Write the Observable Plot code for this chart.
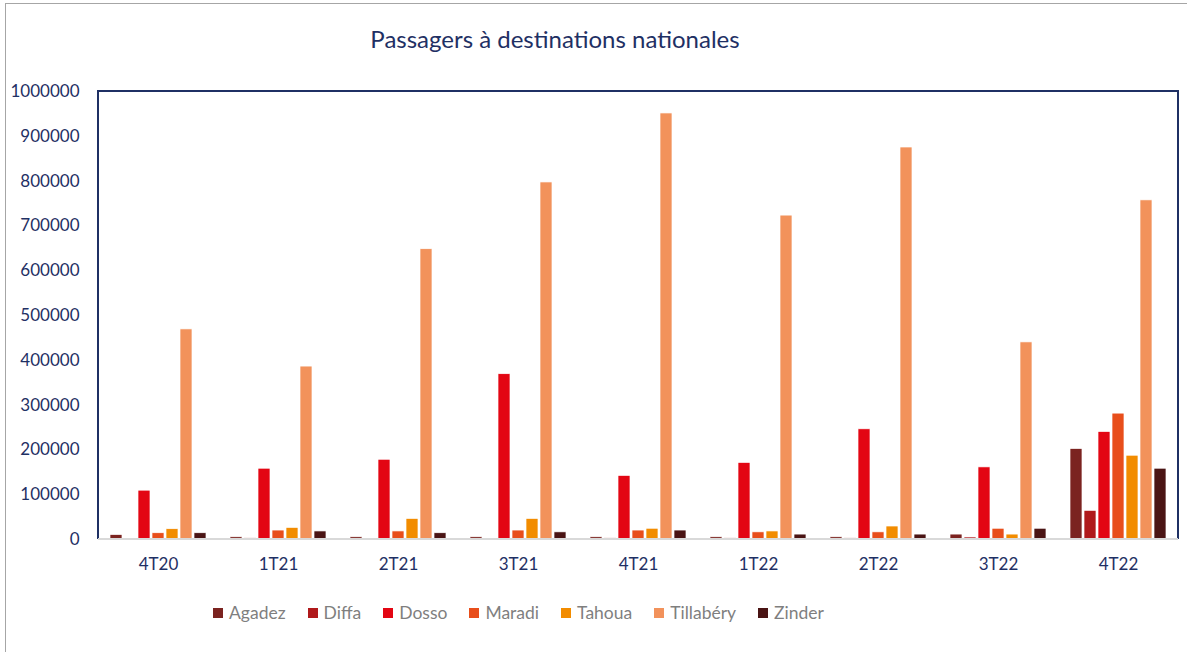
<!DOCTYPE html>
<html>
<head>
<meta charset="utf-8">
<script src="https://cdn.jsdelivr.net/npm/d3@7"></script>
<script src="https://cdn.jsdelivr.net/npm/@observablehq/plot@0.6"></script>
<style>
  html, body { margin: 0; padding: 0; background: #fff; }
  body { width: 1187px; height: 652px; position: relative; overflow: hidden; font-family: Lato, "Open Sans", sans-serif; }
  #border { position: absolute; left: 5px; top: 3px; width: 1200px; height: 700px; border: 1.5px solid #a6a6a6; box-sizing: border-box; z-index: 5; pointer-events: none; }
  #title { position: absolute; left: 0; top: 24px; width: 1110px; text-align: center; font-size: 24px; color: #1f3064; }
  #chart { position: absolute; left: 0; top: 60px; }
  #legend { position: absolute; left: 213px; top: 602px; display: flex; align-items: center; font-size: 17.5px; color: #7f7f7f; }
  #legend .item { display: flex; align-items: center; margin-right: 22px; }
  #legend .sw { width: 10px; height: 10px; margin-right: 6px; }
</style>
</head>
<body>
<div id="border"></div>
<div id="title">Passagers à destinations nationales</div>
<div id="chart"></div>
<div id="legend"></div>
<script>
const periods = ["4T20", "1T21", "2T21", "3T21", "4T21", "1T22", "2T22", "3T22", "4T22"];
const regions = ["Agadez", "Diffa", "Dosso", "Maradi", "Tahoua", "Tillabéry", "Zinder"];
const colors  = ["#7b2320", "#b0191b", "#e30613", "#e84e1b", "#f28c00", "#f2925b", "#4a1414"];

const agadez    = [10000, 5000, 5000, 5000, 5000, 5000, 5000, 11000, 202000];
const diffa     = [2000, 2500, 0, 0, 2500, 2500, 2500, 4500, 64000];
const dosso     = [109000, 158000, 178000, 369000, 142000, 171000, 246000, 161000, 240000];
const maradi    = [14000, 20000, 18000, 20000, 20000, 16000, 16000, 24000, 281000];
const tahoua    = [23000, 26000, 46000, 46000, 24000, 18000, 29000, 11000, 187000];
const tillabery = [469000, 386000, 648000, 797000, 951000, 723000, 875000, 440000, 757000];
const zinder    = [14000, 18000, 14000, 16000, 20000, 11000, 11000, 24000, 158000];

const series = [agadez, diffa, dosso, maradi, tahoua, tillabery, zinder];
const yTicks = d3.range(0, 1000001, 100000);

const data = [];
periods.forEach((p, i) => regions.forEach((r, j) => data.push({period: p, region: r, value: series[j][i]})));

const navy = "#1f3064";
const mL = 98, mR = 9, mT = 31, mB = 40, W = 1187, H = 519;

const chart = Plot.plot({
  width: W, height: H,
  marginLeft: mL, marginRight: mR, marginTop: mT, marginBottom: mB,
  style: {fontFamily: "Lato, 'Open Sans', sans-serif", fontSize: "17px", color: navy, background: "transparent"},
  fx: {domain: periods, paddingInner: 0.2, paddingOuter: 0.1, label: null, axis: "bottom", tickSize: 0, tickPadding: 18},
  x: {domain: regions, axis: null, paddingInner: 0.15, paddingOuter: 0},
  y: {domain: [0, 1000000], ticks: yTicks, tickFormat: d3.format("d"), tickSize: 0, tickPadding: 31, label: null},
  color: {domain: regions, range: colors},
  marks: [
    Plot.barY(data, {fx: "period", x: "region", y: "value", fill: "region", stroke: "white", strokeWidth: 0.7})
  ]
});
document.getElementById("chart").appendChild(chart);

// plot area frame: navy on left/top/right, light grey baseline
const ys = chart.scale("y");
const y0 = ys.apply(0), y1 = ys.apply(1000000);
const svg = d3.select(chart);
svg.append("path")
  .attr("d", `M${mL},${y0}V${y1}H${W - mR}V${y0}`)
  .attr("fill", "none").attr("stroke", navy).attr("stroke-width", 2);
svg.append("line")
  .attr("x1", mL).attr("x2", W - mR).attr("y1", y0).attr("y2", y0)
  .attr("stroke", "#d9d9d9").attr("stroke-width", 2);

const legend = d3.select("#legend");
regions.forEach((r, i) => {
  const it = legend.append("div").attr("class", "item");
  it.append("div").attr("class", "sw").style("background", colors[i]);
  it.append("span").text(r);
});
</script>
</body>
</html>
